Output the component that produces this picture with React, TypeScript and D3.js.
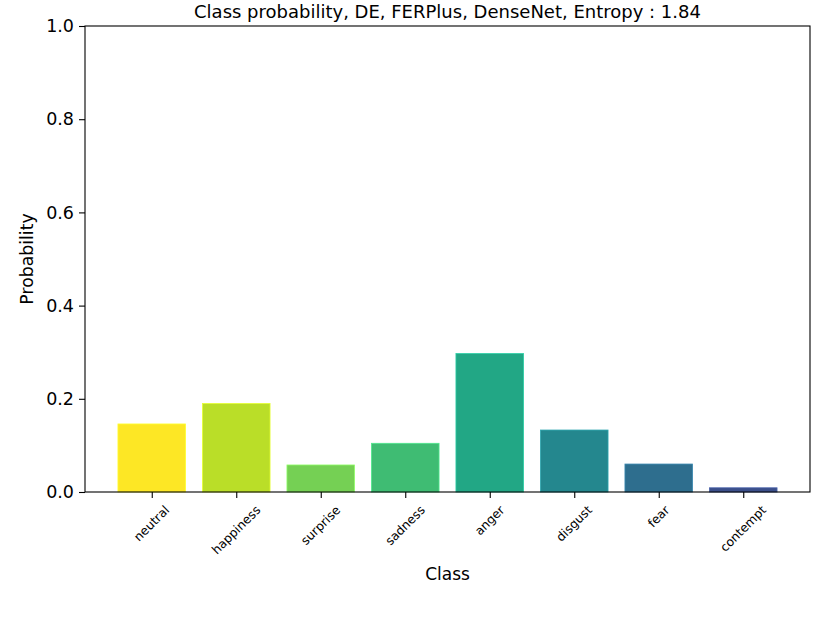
import * as d3 from "d3";
import { useEffect, useRef } from "react";

const classes = ["neutral", "happiness", "surprise", "sadness", "anger", "disgust", "fear", "contempt"];
const probs = [0.146, 0.19, 0.058, 0.1045, 0.297, 0.133, 0.06, 0.009];
const yTicks = [0, 0.2, 0.4, 0.6, 0.8, 1.0];
const barColors = ["#fde725", "#bade28", "#75d054", "#3fbc73", "#22a785", "#24878e", "#2e6e8e", "#3b4f8a"];
const title = "Class probability, DE, FERPlus, DenseNet, Entropy : 1.84";

const svgWidth = 830;
const svgHeight = 623;
const margin = { left: 85, top: 26, right: 20, bottom: 131 };
const font = "DejaVu Sans, sans-serif";

export default function App() {
    const svgRef = useRef<SVGSVGElement>(null);

    useEffect(() => {
        if (svgRef.current) {
            drawChart();
        }
    }, [svgRef]);

    const drawChart = () => {
        const svg = d3.select(svgRef.current);
        svg.selectAll("*").remove();
        const chartWidth = svgWidth - margin.left - margin.right;
        const chartHeight = svgHeight - margin.top - margin.bottom;

        const chart = svg
            .append("g")
            .attr("transform", "translate(" + margin.left + "," + margin.top + ")");

        // matplotlib-like x limits: bars of width 0.8 plus 5% margin
        const scaleX = d3.scaleLinear().domain([-0.79, classes.length - 1 + 0.79]).range([0, chartWidth]);
        const scaleY = d3.scaleLinear().domain([0, 1]).range([chartHeight, 0]);
        const barW = scaleX(0.4) - scaleX(-0.4);

        // bars
        chart
            .selectAll("rect.bar")
            .data(probs)
            .enter()
            .append("rect")
            .attr("class", "bar")
            .attr("x", (d, i) => scaleX(i) - barW / 2)
            .attr("y", (d) => scaleY(d))
            .attr("width", barW)
            .attr("height", (d) => chartHeight - scaleY(d))
            .attr("fill", (d, i) => barColors[i])
            .attr("stroke", (d, i) => d3.color(barColors[i])!.brighter(0.6).formatHex())
            .attr("stroke-width", 0.8);

        // frame
        chart
            .append("rect")
            .attr("x", 0)
            .attr("y", 0)
            .attr("width", chartWidth)
            .attr("height", chartHeight)
            .attr("fill", "none")
            .attr("stroke", "#000")
            .attr("stroke-width", 1.1);

        // y axis
        const yAxis = chart
            .append("g")
            .call(
                d3
                    .axisLeft(scaleY)
                    .tickValues(yTicks)
                    .tickSize(6)
                    .tickPadding(5)
                    .tickFormat((d) => (d as number).toFixed(1))
            );
        yAxis.select(".domain").remove();
        yAxis.selectAll("line").attr("stroke-width", 1.1);
        yAxis
            .selectAll("text")
            .attr("font-family", font)
            .attr("font-size", 17.5)
            .attr("fill", "#000");

        // x axis
        const xAxis = chart
            .append("g")
            .attr("transform", "translate(0," + chartHeight + ")")
            .call(
                d3
                    .axisBottom(scaleX)
                    .tickValues(d3.range(classes.length))
                    .tickSize(6)
                    .tickFormat(() => "")
            );
        xAxis.select(".domain").remove();
        xAxis.selectAll("line").attr("stroke-width", 1.1);

        // rotated tick labels, centered under each tick
        const xfs = 12.3;
        classes.forEach((c, i) => {
            const t = chart
                .append("text")
                .attr("font-family", font)
                .attr("font-size", xfs)
                .attr("text-anchor", "middle")
                .attr("dominant-baseline", "central")
                .text(c);
            const w = (t.node() as SVGTextElement).getComputedTextLength();
            const h = xfs * 1.15;
            const half = ((w + h) * Math.SQRT1_2) / 2;
            const cy = chartHeight + 11 + half;
            t.attr("transform", "translate(" + scaleX(i) + "," + cy + ") rotate(-45)");
        });

        // axis labels
        chart
            .append("text")
            .attr("x", chartWidth / 2)
            .attr("y", chartHeight + 88)
            .attr("text-anchor", "middle")
            .attr("font-family", font)
            .attr("font-size", 17)
            .text("Class");
        chart
            .append("text")
            .attr("transform", "translate(" + -52 + "," + chartHeight / 2 + ") rotate(-90)")
            .attr("text-anchor", "middle")
            .attr("font-family", font)
            .attr("font-size", 17.3)
            .text("Probability");

        // title
        chart
            .append("text")
            .attr("x", chartWidth / 2)
            .attr("y", -8)
            .attr("text-anchor", "middle")
            .attr("font-family", font)
            .attr("font-size", 18)
            .text(title);
    };

    return (
        <svg
            ref={svgRef}
            width={svgWidth}
            height={svgHeight}
            style={{ position: "absolute", left: 0, top: 0, background: "#fff" }}
        />
    );
}
